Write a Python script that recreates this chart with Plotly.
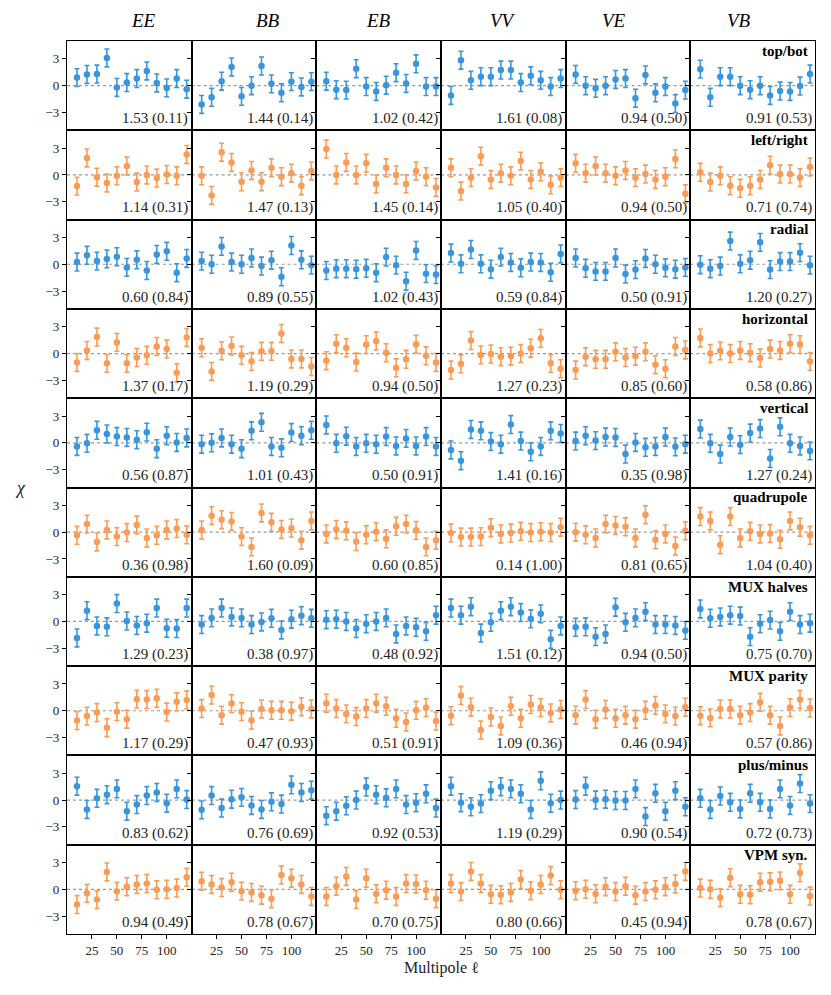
import plotly.graph_objects as go
from plotly.subplots import make_subplots

ell = [10, 20, 30, 40, 50, 60, 70, 80, 90, 100, 110, 120]
spectra = ["EE", "BB", "EB", "VV", "VE", "VB"]

# chi values per null test, one list per spectrum (EE, BB, EB, VV, VE, VB)
top_bot = [
    [0.9, 1.25, 1.3, 3.1, -0.2, 0.35, 0.8, 1.65, 0.3, -0.25, 0.8, -0.4],
    [-2.1, -1.3, 0.5, 2.1, -1.2, 0.0, 2.2, 0.2, -0.8, 0.45, -0.15, 0.45],
    [0.5, -0.45, -0.5, 1.9, -0.1, -0.65, 0.05, 1.45, 0.25, 2.45, -0.1, -0.1],
    [-1.1, 2.85, 0.6, 1.0, 1.0, 1.75, 1.75, 0.35, 1.1, 0.6, -0.1, 0.8],
    [1.25, 0.0, -0.3, 0.0, 0.7, 0.8, -1.4, 1.2, -0.8, -0.1, -2.0, -0.5],
    [1.85, -1.3, 1.0, 1.0, 0.0, -0.45, 0.0, -1.1, -0.6, -0.65, -0.05, 1.3],
]
left_right = [
    [-1.25, 1.9, -0.25, -0.9, -0.1, 1.0, -0.8, 0.0, -0.35, 0.05, -0.1, 2.3],
    [-0.1, -2.3, 2.55, 1.4, -0.75, 0.5, -0.75, 0.8, -0.2, 0.2, -1.2, 0.45],
    [2.9, 0.0, 1.4, 0.0, 1.3, -1.0, 0.8, 0.0, -1.0, 0.45, -0.2, -1.4],
    [0.8, -1.8, -0.3, 2.1, -0.5, 0.2, -0.1, 1.55, -0.5, 0.35, -1.1, -0.3],
    [1.3, 0.2, 1.0, 0.2, -0.1, 0.5, -0.3, 0.1, -0.5, -0.2, 1.8, -2.1],
    [0.3, -0.8, -0.1, -1.2, -1.5, -1.2, -0.5, 1.1, 0.1, 0.1, -0.3, 0.9],
]
radial = [
    [0.25, 1.0, 0.35, 0.6, 0.85, -0.35, 0.5, -0.7, 1.1, 1.45, -0.95, 0.65],
    [0.35, 0.0, 2.0, 0.25, 0.0, 0.7, -0.2, 0.45, -1.4, 2.1, 0.5, -0.1],
    [-0.7, -0.5, -0.5, -0.55, -0.45, -0.95, 0.8, -0.1, -1.9, 1.55, -1.05, -1.15],
    [1.25, 0.05, 1.65, 0.05, -0.55, 0.8, 0.2, -0.4, 0.25, 0.2, -0.9, 1.15],
    [0.7, -0.45, -0.8, -0.8, 0.7, -1.1, -0.6, 0.65, 0.0, -0.4, -0.55, -0.35],
    [-0.05, -0.5, -0.2, 2.6, 0.05, 0.45, 2.45, -0.6, 0.3, 0.3, 1.3, -0.1],
]
horizontal = [
    [-1.0, 0.35, 1.85, -1.1, 1.25, -1.1, -0.45, -0.2, 0.8, 0.5, -2.15, 1.8],
    [0.65, -2.0, 0.3, 0.85, -0.2, -0.9, 0.25, 0.25, 2.25, -0.6, -0.6, -1.45],
    [-0.8, 1.1, 0.65, -0.95, 1.0, 1.4, 0.1, -1.6, -0.65, 1.05, -0.25, -1.0],
    [-1.85, -1.15, 1.45, -0.15, -0.05, -0.35, -0.3, 0.0, 0.6, 1.7, -1.1, -1.7],
    [-1.85, -0.35, -0.65, -0.65, 0.2, -0.45, -0.3, 0.2, -1.25, -1.7, 0.8, 0.4],
    [1.75, 0.0, 0.3, 0.0, 0.35, 0.1, -0.5, 0.5, 0.35, 1.1, 1.0, -0.9],
]
vertical = [
    [-0.4, -0.05, 1.4, 1.0, 0.7, 0.6, 0.35, 1.2, -0.65, 0.8, 0.05, 0.55],
    [-0.15, 0.0, 0.55, -0.15, -0.65, 1.35, 2.3, -0.4, -0.55, 1.15, 0.8, 1.4],
    [2.0, -0.05, 0.75, -0.4, -0.05, -0.15, 0.7, -0.35, 0.5, -0.35, 0.7, -0.4],
    [-0.8, -2.0, 1.5, 1.35, 0.15, -0.15, 2.05, 0.2, -1.0, -0.4, 1.35, 1.05],
    [0.2, 0.8, 0.25, 0.65, 0.6, -1.25, 0.05, -0.5, -0.4, 0.65, -0.45, -0.15],
    [1.55, -0.05, -1.25, 0.65, -0.2, 1.1, 1.6, -1.75, 1.8, -0.05, -0.35, -0.9],
]
quadrupole = [
    [-0.35, 0.9, -1.1, 0.25, -0.5, -0.05, 0.8, -0.65, -0.35, 0.25, 0.4, -0.3],
    [0.25, 1.85, 1.4, 1.2, -0.5, -1.65, 2.15, 1.1, 0.3, 0.45, -0.9, 1.25],
    [-0.2, 0.3, 0.15, -1.05, -0.3, 0.05, -0.75, 0.65, 0.9, 0.2, -1.65, -0.9],
    [-0.1, -0.55, -0.55, -0.5, 0.5, -0.2, -0.1, 0.1, -0.05, 0.05, -0.05, 0.55],
    [0.0, -0.3, -0.65, 0.9, 0.75, 0.6, -0.65, 1.95, -0.85, -0.2, -1.55, 0.15],
    [1.75, 1.25, -1.4, 1.75, -0.65, 0.1, -0.2, -0.15, -0.8, 1.25, 0.55, -0.35],
]
mux_halves = [
    [-1.85, 1.2, -0.5, -0.6, 2.0, 0.05, -0.45, -0.2, 1.5, -0.75, -0.8, 1.5],
    [-0.35, 0.4, 1.5, 0.5, 0.4, -0.35, -0.05, 0.35, -0.95, 0.25, 0.65, 0.35],
    [0.2, 0.25, 0.0, -0.8, -0.25, 0.0, 0.4, -1.4, -0.5, -0.65, -1.1, 0.7],
    [1.5, 0.7, 1.65, -1.3, -0.1, 1.2, 1.65, 1.0, 0.3, 0.85, -2.0, -0.5],
    [-0.65, -0.6, -1.7, -1.4, 1.6, -0.1, 0.4, 1.1, -0.35, -0.35, -0.45, -1.0],
    [1.4, 0.35, 0.5, 0.7, 0.6, -1.7, -0.25, 0.15, -1.1, 1.1, -0.35, -0.2],
]
mux_parity = [
    [-1.1, -0.6, -0.2, -1.9, -0.1, -0.95, 1.3, 1.25, 1.4, -0.15, 1.0, 1.2],
    [0.25, 1.75, -0.5, 0.8, -0.1, -1.05, 0.2, 0.05, 0.05, -0.05, 0.45, 0.2],
    [0.85, 0.25, -0.35, -0.65, 0.25, 0.85, 0.5, -0.85, -1.25, 0.05, 0.35, -1.15],
    [-0.55, 1.7, 0.4, -2.15, -0.7, -1.7, 0.5, -0.85, 0.7, 0.35, -0.25, 0.15],
    [-0.5, 1.25, -0.95, 0.15, -0.85, -0.5, -0.95, 0.05, 0.6, -0.35, -0.6, 0.4],
    [-0.55, -0.8, 0.2, 0.2, -0.5, -0.2, 0.95, -0.5, -1.7, 0.35, 1.25, 0.3],
]
plus_minus = [
    [1.55, -1.05, 0.2, 0.6, 1.25, -1.25, -0.5, 0.5, 0.85, -0.35, 1.25, 0.05],
    [-1.1, 0.5, -0.9, 0.1, 0.3, -0.6, -1.05, -0.2, -0.45, 1.7, 0.85, 1.1],
    [-1.75, -1.25, -0.65, 0.0, 1.45, 0.6, 0.25, 1.25, -0.5, -0.3, 0.7, -0.9],
    [1.55, -0.3, -0.75, -0.4, 1.05, 1.5, 1.25, 0.7, -1.05, 2.15, -0.35, 0.0],
    [0.05, 1.55, 0.0, 0.1, -0.05, -0.05, 1.25, -1.85, 0.75, -1.25, 1.05, -0.75],
    [0.2, -1.05, 0.45, -0.25, -1.0, 0.75, -0.25, -1.0, 1.25, -0.6, 1.85, -0.4],
]
vpm_syn = [
    [-1.7, -0.45, -1.15, 1.95, -0.2, 0.3, 0.55, 0.65, -0.05, 0.0, 0.15, 1.35],
    [0.9, 0.55, 0.2, 0.8, -0.2, -0.35, -0.65, -1.05, 1.6, 1.25, 0.55, -0.8],
    [-0.8, 0.35, 1.45, -1.15, 1.25, -0.5, -0.1, -0.8, 0.65, 0.6, -0.1, -1.05],
    [0.65, -0.25, 2.0, 0.65, -0.55, -0.6, -0.35, 1.1, -0.15, 0.55, 1.55, -0.05],
    [-0.15, 0.0, -0.5, 0.3, -0.25, 0.35, -0.65, -0.25, -0.05, 0.3, 0.6, 2.0],
    [0.15, 0.0, -0.95, 1.3, -0.55, -0.6, 0.8, 0.85, 0.95, -0.55, 1.85, -0.75],
]

# chi^2/dof and PTE per panel
stats_top_bot = ["1.53 (0.11)", "1.44 (0.14)", "1.02 (0.42)", "1.61 (0.08)", "0.94 (0.50)", "0.91 (0.53)"]
stats_left_right = ["1.14 (0.31)", "1.47 (0.13)", "1.45 (0.14)", "1.05 (0.40)", "0.94 (0.50)", "0.71 (0.74)"]
stats_radial = ["0.60 (0.84)", "0.89 (0.55)", "1.02 (0.43)", "0.59 (0.84)", "0.50 (0.91)", "1.20 (0.27)"]
stats_horizontal = ["1.37 (0.17)", "1.19 (0.29)", "0.94 (0.50)", "1.27 (0.23)", "0.85 (0.60)", "0.58 (0.86)"]
stats_vertical = ["0.56 (0.87)", "1.01 (0.43)", "0.50 (0.91)", "1.41 (0.16)", "0.35 (0.98)", "1.27 (0.24)"]
stats_quadrupole = ["0.36 (0.98)", "1.60 (0.09)", "0.60 (0.85)", "0.14 (1.00)", "0.81 (0.65)", "1.04 (0.40)"]
stats_mux_halves = ["1.29 (0.23)", "0.38 (0.97)", "0.48 (0.92)", "1.51 (0.12)", "0.94 (0.50)", "0.75 (0.70)"]
stats_mux_parity = ["1.17 (0.29)", "0.47 (0.93)", "0.51 (0.91)", "1.09 (0.36)", "0.46 (0.94)", "0.57 (0.86)"]
stats_plus_minus = ["0.83 (0.62)", "0.76 (0.69)", "0.92 (0.53)", "1.19 (0.29)", "0.90 (0.54)", "0.72 (0.73)"]
stats_vpm_syn = ["0.94 (0.49)", "0.78 (0.67)", "0.70 (0.75)", "0.80 (0.66)", "0.45 (0.94)", "0.78 (0.67)"]

tests = [
    ("top/bot", top_bot, stats_top_bot),
    ("left/right", left_right, stats_left_right),
    ("radial", radial, stats_radial),
    ("horizontal", horizontal, stats_horizontal),
    ("vertical", vertical, stats_vertical),
    ("quadrupole", quadrupole, stats_quadrupole),
    ("MUX halves", mux_halves, stats_mux_halves),
    ("MUX parity", mux_parity, stats_mux_parity),
    ("plus/minus", plus_minus, stats_plus_minus),
    ("VPM syn.", vpm_syn, stats_vpm_syn),
]

blue = "#3a96dc"
orange = "#fb9c56"
serif = "Liberation Serif, DejaVu Serif, serif"

nrows, ncols = len(tests), len(spectra)
fig = make_subplots(rows=nrows, cols=ncols, horizontal_spacing=0, vertical_spacing=0)

for i, (name, vals, stats) in enumerate(tests):
    r = i + 1
    color = blue if i % 2 == 0 else orange
    for j in range(ncols):
        c = j + 1
        fig.add_trace(go.Scatter(
            x=ell, y=vals[j], mode="markers",
            marker=dict(color=color, size=6.5),
            error_y=dict(type="constant", value=1, color=color, thickness=1.6, width=2.5),
            showlegend=False, hoverinfo="skip"), row=r, col=c)
        fig.add_annotation(x=123.5, y=-3.7, text=stats[j], showarrow=False,
                           xanchor="right", yanchor="middle",
                           font=dict(family=serif, size=15, color="#222"), row=r, col=c)
    fig.add_annotation(x=120, y=3.9, text="<b>" + name + "</b>", showarrow=False,
                       xanchor="right", yanchor="middle",
                       font=dict(family=serif, size=15, color="black"), row=r, col=ncols)

fig.add_hline(y=0, line=dict(color="#999999", width=1.2, dash="dot"), layer="below",
              row="all", col="all")

fig.update_xaxes(range=[0, 125], tickvals=[25, 50, 75, 100], showgrid=False, zeroline=False,
                 showline=True, mirror=True, linecolor="black", linewidth=1.3,
                 ticks="", showticklabels=False)
fig.update_xaxes(ticks="outside", ticklen=4, tickcolor="black", showticklabels=True,
                 tickfont=dict(family=serif, size=13, color="#222"), row=nrows)
fig.update_yaxes(range=[-5, 5], tickvals=[-3, 0, 3], ticktext=["\u22123", "0", "3"],
                 showgrid=False, zeroline=False, showline=True, mirror=True,
                 linecolor="black", linewidth=1.3, ticks="outside", ticklen=4,
                 tickcolor="black", showticklabels=False)
fig.update_yaxes(showticklabels=True, tickfont=dict(family=serif, size=13, color="#222"), col=1)

# column headers
for j, s in enumerate(spectra):
    fig.add_annotation(x=(j + 0.5) / ncols, y=1, xref="paper", yref="paper",
                       text="<i>" + s + "</i>", showarrow=False, yanchor="bottom", yshift=8,
                       font=dict(family=serif, size=19, color="black"))

fig.add_annotation(x=0.5, y=0, xref="paper", yref="paper", text="Multipole \u2113",
                   showarrow=False, yanchor="middle", yshift=-34,
                   font=dict(family=serif, size=16, color="#222"))
fig.add_annotation(x=0, y=0.5, xref="paper", yref="paper", text="<i>\u03c7</i>",
                   showarrow=False, xanchor="center", xshift=-47,
                   font=dict(family=serif, size=18, color="#222"))

# the page adds an 8px body margin, so the plot area is shifted back by that much
fig.update_layout(width=831, height=995, plot_bgcolor="white", paper_bgcolor="white",
                  margin=dict(l=59, r=24, t=33, b=69))

fig.write_html("out.html")
